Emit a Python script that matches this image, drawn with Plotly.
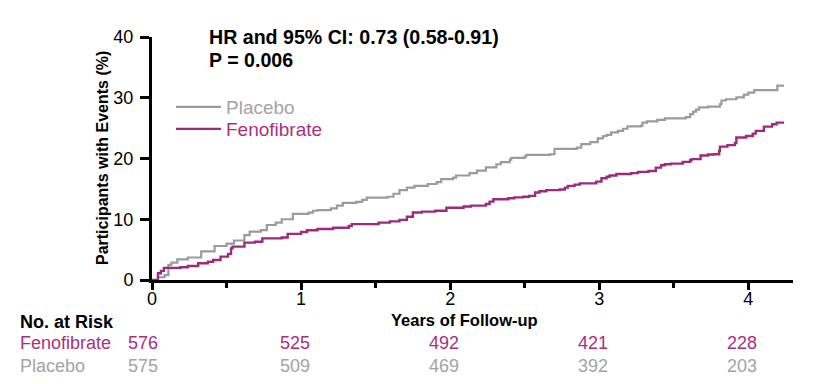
import plotly.graph_objects as go

# ---------------- data ----------------
placebo_t = [0, 0.04, 0.085, 0.11, 0.13, 0.17, 0.24, 0.33, 0.42, 0.50,
             0.55, 0.62, 0.655, 0.73, 0.77, 0.83, 0.87, 0.945, 1.05, 1.08,
             1.11, 1.20, 1.24, 1.28, 1.37, 1.41, 1.44, 1.58, 1.62, 1.66,
             1.71, 1.76, 1.85, 1.91, 1.94, 2.02, 2.04, 2.13, 2.18, 2.24,
             2.31, 2.34, 2.40, 2.41, 2.50, 2.51, 2.67, 2.70, 2.85, 2.88,
             2.94, 2.99, 3.025, 3.05, 3.08, 3.125, 3.16, 3.19, 3.28, 3.29,
             3.32, 3.39, 3.44, 3.58, 3.61, 3.63, 3.65, 3.67, 3.73, 3.81,
             3.82, 3.85, 3.92, 3.97, 4.00, 4.04, 4.195, 4.24]
placebo_v = [0, 0.45, 0.8, 2.5, 2.85, 3.4, 3.7, 4.7, 5.6, 6.0,
             6.5, 7.4, 7.95, 8.2, 9.05, 9.45, 10.0, 10.9, 11.1, 11.4,
             11.5, 11.8, 12.25, 12.7, 12.85, 13.2, 13.55, 13.7, 14.2, 14.8,
             15.2, 15.5, 15.8, 16.1, 16.6, 16.85, 17.2, 17.6, 18.0, 18.55,
             19.05, 19.4, 19.8, 20.1, 20.3, 20.6, 20.7, 21.6, 21.8, 22.35,
             22.7, 23.3, 23.7, 23.9, 24.3, 24.55, 24.9, 25.3, 25.4, 25.9,
             26.1, 26.35, 26.6, 26.8, 27.3, 27.7, 28.05, 28.4, 28.55, 28.95,
             29.55, 29.75, 30.05, 30.5, 30.85, 31.25, 32.0, 32.0]

feno_t = [0, 0.04, 0.06, 0.08, 0.19, 0.24, 0.31, 0.375, 0.41, 0.46,
          0.51, 0.53, 0.54, 0.62, 0.69, 0.74, 0.87, 0.91, 1.00, 1.04,
          1.11, 1.215, 1.32, 1.34, 1.52, 1.595, 1.66, 1.71, 1.75, 1.81,
          1.90, 1.975, 2.09, 2.14, 2.24, 2.265, 2.29, 2.39, 2.43, 2.49,
          2.53, 2.57, 2.60, 2.645, 2.735, 2.77, 2.79, 2.835, 2.87, 2.98,
          3.015, 3.05, 3.07, 3.115, 3.215, 3.26, 3.33, 3.38, 3.415, 3.44,
          3.48, 3.56, 3.61, 3.62, 3.68, 3.73, 3.77, 3.805, 3.81, 3.86,
          3.91, 3.92, 3.985, 4.03, 4.05, 4.105, 4.16, 4.19, 4.24]
feno_v = [0, 1.1, 1.5, 2.0, 2.1, 2.3, 2.75, 3.0, 3.3, 3.85,
          4.3, 5.2, 5.5, 6.15, 6.3, 6.85, 7.0, 7.6, 7.9, 8.2,
          8.4, 8.6, 8.9, 9.2, 9.45, 9.65, 9.9, 10.4, 11.1, 11.25,
          11.4, 11.9, 12.1, 12.25, 12.5, 12.9, 13.3, 13.45, 13.6, 13.7,
          13.85, 14.4, 14.6, 14.8, 14.9, 15.2, 15.5, 15.7, 15.9, 16.2,
          16.75, 17.0, 17.2, 17.45, 17.6, 17.8, 17.95, 18.5, 18.9, 19.05,
          19.15, 19.45, 19.7, 19.9, 20.5, 20.65, 20.7, 21.25, 21.95, 22.2,
          22.55, 23.45, 23.7, 24.1, 24.55, 25.25, 25.65, 25.9, 25.9]

risk_years = [0, 1, 2, 3, 4]
risk_feno = [576, 525, 492, 421, 228]
risk_placebo = [575, 509, 469, 392, 203]

x_ticks = [0, 1, 2, 3, 4]
y_ticks = [0, 10, 20, 30, 40]

# ---------------- style ----------------
FONT = "Liberation Sans, Arial, sans-serif"
GRAY = "#9b9b9b"
GRAY_TXT = "#a3a3a3"
PURPLE = "#9c2a7e"
PURPLE_TXT = "#a8307f"

OFF = 8  # default page body margin
W, H = 840 - 2 * OFF, 384 - 2 * OFF
# plot area in page pixels: x 152..793, y 37..280
PL, PR, PT, PB = 152, 793, 37, 280
L, R, T, B = PL - OFF, OFF + W - PR, PT - OFF, OFF + H - PB
PW, PH = PR - PL, PB - PT


def px(xp):
    return (xp - PL) / PW


def py(yp):
    return (PB - yp) / PH


fig = go.Figure()
fig.add_trace(go.Scatter(
    x=placebo_t, y=placebo_v, mode="lines", line=dict(shape="hv", color=GRAY, width=2.2),
    name="Placebo", legend="legend", hoverinfo="skip"))
fig.add_trace(go.Scatter(
    x=feno_t, y=feno_v, mode="lines", line=dict(shape="hv", color=PURPLE, width=2.4),
    name="Fenofibrate", legend="legend2", hoverinfo="skip"))

annotations = []
# HR text
annotations.append(dict(x=px(207), y=py(37), xref="paper", yref="paper", xanchor="left", yanchor="middle",
                        text="<b>HR and 95% CI: 0.73 (0.58-0.91)</b>", showarrow=False,
                        font=dict(family=FONT, size=19.6, color="black")))
annotations.append(dict(x=px(207), y=py(60), xref="paper", yref="paper", xanchor="left", yanchor="middle",
                        text="<b>P = 0.006</b>", showarrow=False,
                        font=dict(family=FONT, size=19.6, color="black")))
# axis titles
annotations.append(dict(x=px(102), y=py(158), xref="paper", yref="paper", xanchor="center", yanchor="middle",
                        text="<b>Participants with Events (%)</b>", textangle=-90, showarrow=False,
                        font=dict(family=FONT, size=16, color="black")))
annotations.append(dict(x=px(464), y=py(320), xref="paper", yref="paper", xanchor="center", yanchor="middle",
                        text="<b>Years of Follow-up</b>", showarrow=False,
                        font=dict(family=FONT, size=16.5, color="black")))
# at-risk table
annotations.append(dict(x=px(18), y=py(322), xref="paper", yref="paper", xanchor="left", yanchor="middle",
                        text="<b>No. at Risk</b>", showarrow=False,
                        font=dict(family=FONT, size=18, color="black")))
annotations.append(dict(x=px(18), y=py(343), xref="paper", yref="paper", xanchor="left", yanchor="middle",
                        text="Fenofibrate", showarrow=False,
                        font=dict(family=FONT, size=18, color=PURPLE_TXT)))
annotations.append(dict(x=px(18), y=py(366), xref="paper", yref="paper", xanchor="left", yanchor="middle",
                        text="Placebo", showarrow=False,
                        font=dict(family=FONT, size=18, color=GRAY_TXT)))
for yr, nf, npl in zip(risk_years, risk_feno, risk_placebo):
    shift = -9 if yr == 0 else -6
    annotations.append(dict(x=yr, y=py(343), xref="x", yref="paper", xanchor="center", yanchor="middle",
                            xshift=shift, text=str(nf), showarrow=False,
                            font=dict(family=FONT, size=18, color=PURPLE_TXT)))
    annotations.append(dict(x=yr, y=py(366), xref="x", yref="paper", xanchor="center", yanchor="middle",
                            xshift=shift, text=str(npl), showarrow=False,
                            font=dict(family=FONT, size=18, color=GRAY_TXT)))

legend_common = dict(xanchor="left", yanchor="middle", bgcolor="rgba(0,0,0,0)", borderwidth=0,
                     itemwidth=45, tracegroupgap=0)

fig.update_layout(
    width=W, height=H,
    margin=dict(l=L, r=R, t=T, b=B, pad=0),
    paper_bgcolor="white", plot_bgcolor="white",
    font=dict(family=FONT, size=18, color="black"),
    showlegend=True,
    legend=dict(x=px(171), y=py(107), font=dict(family=FONT, size=19, color=GRAY_TXT), **legend_common),
    legend2=dict(x=px(171), y=py(129), font=dict(family=FONT, size=19, color=PURPLE_TXT), **legend_common),
    annotations=annotations,
    xaxis=dict(range=[0, 4.3], tickvals=x_ticks, ticktext=[str(v) for v in x_ticks],
               showline=True, linecolor="black", linewidth=3, ticks="outside", ticklen=7,
               tickwidth=2.5, tickcolor="black", showgrid=False, zeroline=False, ticklabelstandoff=-7,
               minor=dict(dtick=0.5, tick0=0, ticks="outside", ticklen=5, tickwidth=2.5, tickcolor="black", showgrid=False),
               tickfont=dict(family=FONT, size=18, color="black"), fixedrange=True),
    yaxis=dict(range=[0, 40], tickvals=y_ticks, ticktext=[str(v) for v in y_ticks],
               showline=True, linecolor="black", linewidth=3, ticks="outside", ticklen=9,
               tickwidth=2.5, tickcolor="black", showgrid=False, zeroline=False, ticklabelstandoff=3,
               tickfont=dict(family=FONT, size=18, color="black"), fixedrange=True),
)

fig.write_html("out.html")
